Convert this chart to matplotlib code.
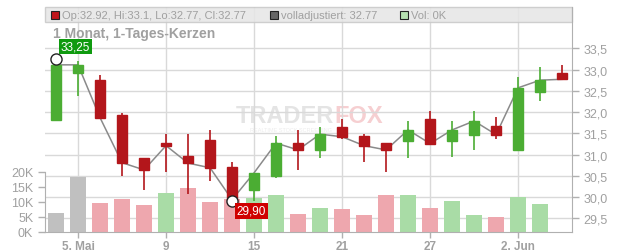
import matplotlib
matplotlib.use("Agg")
import matplotlib.pyplot as plt
from matplotlib.patches import Rectangle
from matplotlib.text import Annotation

plt.rcParams['font.family'] = ['Liberation Sans', 'DejaVu Sans']

# daily candles, 2. Mai .. 4. Jun
opens = [31.82, 32.91, 32.75, 31.93, 30.92, 31.27, 30.97, 31.35, 30.71, 30.17, 30.50, 31.27,
         31.11, 31.66, 31.43, 31.27, 31.33, 31.84, 31.33, 31.47, 31.67, 31.11, 32.46, 32.92]
highs = [33.25, 33.20, 32.87, 31.98, 30.92, 31.48, 31.48, 31.58, 30.83, 30.57, 31.43, 31.58,
         31.66, 31.84, 31.48, 31.27, 31.79, 32.03, 31.79, 32.03, 31.88, 32.82, 33.06, 33.10]
lows = [31.82, 32.37, 31.87, 30.50, 30.17, 30.60, 30.07, 30.38, 29.90, 29.91, 30.44, 30.64,
        30.91, 31.37, 30.82, 30.60, 30.91, 31.26, 30.95, 31.11, 31.37, 31.11, 32.26, 32.77]
closes = [33.11, 33.11, 31.87, 30.81, 30.64, 31.21, 30.80, 30.69, 29.94, 30.57, 31.27, 31.11,
          31.48, 31.42, 31.21, 31.11, 31.58, 31.26, 31.58, 31.79, 31.47, 32.57, 32.75, 32.77]
volumes_k = [6.4, 18.4, 9.8, 11.1, 9.1, 13.1, 14.8, 10.1, 11.1, 11.4, 12.4, 6.1,
             8.1, 7.8, 5.8, 12.4, 12.4, 8.1, 10.4, 5.8, 5.1, 11.8, 9.4, 0.0]

tick_pos = [1, 5, 9, 13, 17, 21]
tick_labels = ['5. Mai', '9', '15', '21', '27', '2. Jun']
price_ticks = [29.5, 30.0, 30.5, 31.0, 31.5, 32.0, 32.5, 33.0, 33.5]
vol_ticks = [0, 5, 10, 15, 20]

RED = '#b3161b'
GREEN = '#4bad33'
GRID = '#d9d9d9'
TXT = '#a0a0a0'

fig = plt.figure(figsize=(6.32, 2.53), dpi=100)
rect = [45 / 632, 20 / 253, 527 / 632, 225 / 253]
axv = fig.add_axes(rect)
ax = fig.add_axes(rect, sharex=axv)
ax.patch.set_alpha(0)
axv.patch.set_alpha(0)

n = len(closes)
xs = list(range(n))
xmin, xmax = -0.5, n - 0.55

# volume bars, colour from change of close
vcols = []
for i in range(n):
    if i == 0 or closes[i] == closes[i - 1]:
        vcols.append('#c0c0c0')
    elif closes[i] > closes[i - 1]:
        vcols.append('#a9dca6')
    else:
        vcols.append('#eea7ae')
axv.bar(xs, volumes_k, width=0.72, color=vcols, zorder=2)
axv.set_ylim(0, 75)
axv.set_xlim(xmin, xmax)
axv.set_yticks(vol_ticks)
axv.set_yticklabels([f'{v}K' for v in vol_ticks])
axv.tick_params(axis='y', colors='#b0b0b0', labelcolor=TXT, labelsize=9, length=5, width=1)
for s in ['top', 'right', 'bottom']:
    axv.spines[s].set_visible(False)
axv.spines['left'].set_bounds(0, 20)
axv.spines['left'].set_color('#b0b0b0')

# price panel
ylo, yhi = 29.18, 34.47
ax.set_ylim(ylo, yhi)
ax.set_xlim(xmin, xmax)
for p in price_ticks:
    axv.axhline((p - ylo) / (yhi - ylo) * 75, color=GRID, lw=1, zorder=0)
for t in tick_pos:
    axv.axvline(t, color=GRID, lw=1, zorder=0)

ax.plot(xs, closes, color='#8a8a8a', lw=1.1, zorder=3)
for i in range(n):
    c = GREEN if closes[i] >= opens[i] else RED
    ax.vlines(i, lows[i], highs[i], color=c, lw=1.2, zorder=4)
    lo_b = min(opens[i], closes[i])
    hgt = max(abs(closes[i] - opens[i]), 0.03)
    ax.add_patch(Rectangle((i - 0.225, lo_b), 0.45, hgt, color=c, zorder=5))

# high / low markers
imax = highs.index(max(highs))
imin = lows.index(min(lows))
ax.plot([imax, imin], [highs[imax], lows[imin]], 'o', ms=8, mfc='white', mec='#222222',
        mew=1, zorder=6)
ax.text(imax + 0.2, highs[imax] + 0.15, f'{highs[imax]:.2f}'.replace('.', ','), color='white',
        fontsize=8.5, va='bottom', ha='left', zorder=7,
        bbox=dict(boxstyle='square,pad=0.15', fc='#0f9a0f', ec='none'))
ax.text(imin + 0.2, lows[imin] - 0.08, f'{lows[imin]:.2f}'.replace('.', ','), color='white',
        fontsize=8.5, va='top', ha='left', zorder=7,
        bbox=dict(boxstyle='square,pad=0.15', fc='#d00000', ec='none'))

ax.yaxis.tick_right()
ax.set_yticks(price_ticks)
ax.set_yticklabels([f'{p:.1f}'.replace('.', ',') for p in price_ticks])
ax.tick_params(axis='y', colors='#b0b0b0', labelcolor=TXT, labelsize=9, length=5, width=1)
ax.set_xticks(tick_pos)
ax.set_xticklabels(tick_labels, fontweight='bold')
ax.tick_params(axis='x', colors='#b0b0b0', labelcolor=TXT, labelsize=8.5, length=4, width=1, pad=2)
axv.tick_params(axis='x', length=0, labelbottom=False)
for s in ['top', 'left']:
    ax.spines[s].set_visible(False)
for s in ['right', 'bottom']:
    ax.spines[s].set_color('#b0b0b0')

# legend band at top
band_lo = ylo + (yhi - ylo) * (210 / 225)
ax.add_patch(Rectangle((xmin, band_lo), xmax - xmin, yhi - band_lo, facecolor='#e6e6e6',
                       edgecolor='#c8c8c8', lw=1, alpha=0.85, zorder=1, clip_on=False))
ly = 1 - 16 / 253
for sx, fc in [(51, '#c0161b'), (270, '#666666'), (400, '#b6e0b0')]:
    fig.add_artist(Rectangle((sx / 632, ly - 4 / 253), 8 / 632, 8 / 253, facecolor=fc,
                             edgecolor='#222222', lw=0.8, transform=fig.transFigure, zorder=3))
fig.text(62 / 632, ly, f'Op:{opens[-1]}, Hi:{highs[-1]}, Lo:{lows[-1]}, Cl:{closes[-1]}',
         color=TXT, fontsize=8, va='center')
fig.text(281 / 632, ly, f'volladjustiert: {closes[-1]}', color=TXT, fontsize=8, va='center')
fig.text(411 / 632, ly, f'Vol: {volumes_k[-1]:.0f}K', color=TXT, fontsize=8, va='center')
fig.text(53 / 632, 1 - 34 / 253, '1 Monat, 1-Tages-Kerzen', color=TXT, fontsize=10,
         fontweight='bold', va='center')

# watermark, behind the (transparent) axes
wm = fig.text(236 / 632, 1 - 117 / 253, 'TRADER', color='#e4e4e4', fontsize=17,
              fontweight='bold', va='center', zorder=-1)
fig.add_artist(Annotation('FOX', xy=(1, 0.5), xycoords=wm, va='center', ha='left',
                          color='#f6cfd1', fontsize=17, fontweight='bold', zorder=-1))
fig.text(250 / 632, 1 - 131 / 253, 'REALTIME STOCK SCREENING', color='#ececec', fontsize=4,
         va='center', zorder=-1)

fig.savefig('out.png', dpi=100)
